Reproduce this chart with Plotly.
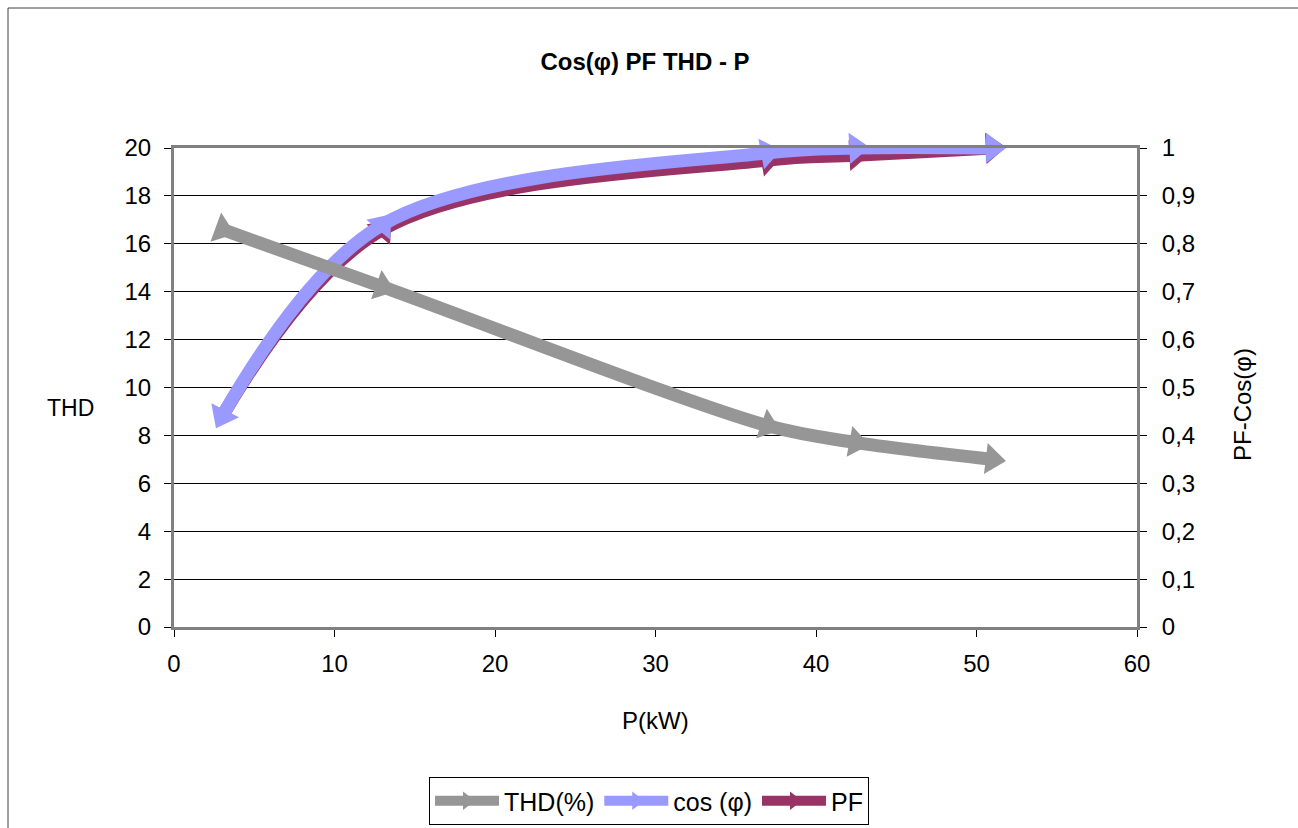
import plotly.graph_objects as go

# ---- data ----
p_kw = [3.0, 13.0, 37.0, 42.5, 51.0]
thd = [16.6, 14.2, 8.4, 7.7, 7.0]
cos_phi = [0.44, 0.84, 0.99, 1.0, 1.0]
pf = [0.44, 0.83, 0.975, 0.985, 1.0]

left_ticks = list(range(0, 21, 2))
right_ticks = [i / 10 for i in range(0, 11)]
x_ticks = list(range(0, 61, 10))

FONT = "Liberation Sans, Arial, sans-serif"
GRAY = "#969696"
BLUE = "#9999FF"
MAROON = "#993366"

L, R, T, B = 174, 1137, 148, 627
W, H = 1298, 828


def px_x(px):
    return (px - L) / (R - L)


def px_y(py):
    return (B - py) / (B - T)


fig = go.Figure()

MSIZE = 27
LW = 13

# THD on the overlaying (left) axis so it is drawn above cos / PF
fig.add_trace(go.Scatter(
    x=p_kw, y=thd, name="THD(%)", yaxis="y2", mode="lines+markers",
    line=dict(color=GRAY, width=LW, shape="spline", smoothing=0.9),
    marker=dict(color=GRAY, symbol="triangle-up", size=MSIZE, angleref="previous"),
    cliponaxis=False, legendrank=1,
))
fig.add_trace(go.Scatter(
    x=p_kw[:1], y=thd[:1], yaxis="y2", mode="markers", showlegend=False,
    marker=dict(color=GRAY, symbol="triangle-up", size=MSIZE, angleref="up", angle=110),
    cliponaxis=False, hoverinfo="skip",
))
fig.add_trace(go.Scatter(
    x=p_kw, y=pf, name="PF", yaxis="y", mode="lines+markers",
    line=dict(color=MAROON, width=LW, shape="spline"),
    marker=dict(color=MAROON, symbol="triangle-up", size=MSIZE, angleref="previous"),
    cliponaxis=False, legendrank=3,
))
fig.add_trace(go.Scatter(
    x=p_kw, y=cos_phi, name="cos (φ)", yaxis="y", mode="lines+markers",
    line=dict(color=BLUE, width=LW, shape="spline"),
    marker=dict(color=BLUE, symbol="triangle-up", size=MSIZE, angleref="previous"),
    cliponaxis=False, legendrank=2,
))
fig.add_trace(go.Scatter(
    x=p_kw[:1], y=cos_phi[:1], yaxis="y", mode="markers", showlegend=False,
    marker=dict(color=BLUE, symbol="triangle-up", size=MSIZE, angleref="up", angle=207),
    cliponaxis=False, hoverinfo="skip",
))

fig.update_layout(
    width=W, height=H,
    margin=dict(l=L, r=W - R, t=T, b=H - B, autoexpand=False),
    paper_bgcolor="white", plot_bgcolor="white",
    separators=", ",
    font=dict(family=FONT, size=24, color="black"),
    title=dict(text="<b>Cos(φ) PF THD - P</b>", x=px_x(645), xref="paper",
               xanchor="center", y=1 - 62 / H, yanchor="middle",
               font=dict(size=24)),
    xaxis=dict(range=[0, 60], tickvals=x_ticks, showgrid=False, zeroline=False,
               showline=True, linecolor="#808080", linewidth=3, mirror=True,
               ticks="outside", ticklen=7, tickcolor="black",
               ticklabelstandoff=6),
    yaxis=dict(range=[0, 1], tickvals=right_ticks, side="right",
               showgrid=True, gridcolor="black", gridwidth=1, zeroline=False,
               showline=True, linecolor="#808080", linewidth=3,
               ticks="outside", ticklen=7, tickcolor="black",
               ticklabelstandoff=10),
    yaxis2=dict(range=[0, 20], tickvals=left_ticks, overlaying="y", side="left",
                showgrid=False, zeroline=False, showline=True,
                linecolor="#808080", linewidth=3,
                ticks="outside", ticklen=7, tickcolor="black",
                ticklabelstandoff=8),
    showlegend=True,
    legend=dict(orientation="h", itemwidth=64, tracegroupgap=10,
                x=px_x(649), xanchor="center", y=px_y(777), yanchor="top",
                bordercolor="black", borderwidth=1, bgcolor="white",
                font=dict(size=25)),
    annotations=[
        dict(text="THD", x=px_x(70), y=px_y(408), xref="paper", yref="paper",
             showarrow=False, xanchor="center", yanchor="middle",
             font=dict(size=23)),
        dict(text="P(kW)", x=px_x(655), y=px_y(720), xref="paper", yref="paper",
             showarrow=False, xanchor="center", yanchor="middle",
             font=dict(size=24)),
        dict(text="PF-Cos(φ)", x=px_x(1243), y=px_y(405), xref="paper",
             yref="paper", showarrow=False, textangle=-90,
             xanchor="center", yanchor="middle", font=dict(size=24)),
    ],
    shapes=[
        dict(type="rect", xref="paper", yref="paper",
             x0=px_x(8), x1=px_x(1310), y0=px_y(840), y1=px_y(8),
             line=dict(color="#404040", width=1), layer="below"),
    ],
)

fig.write_html("out.html")
